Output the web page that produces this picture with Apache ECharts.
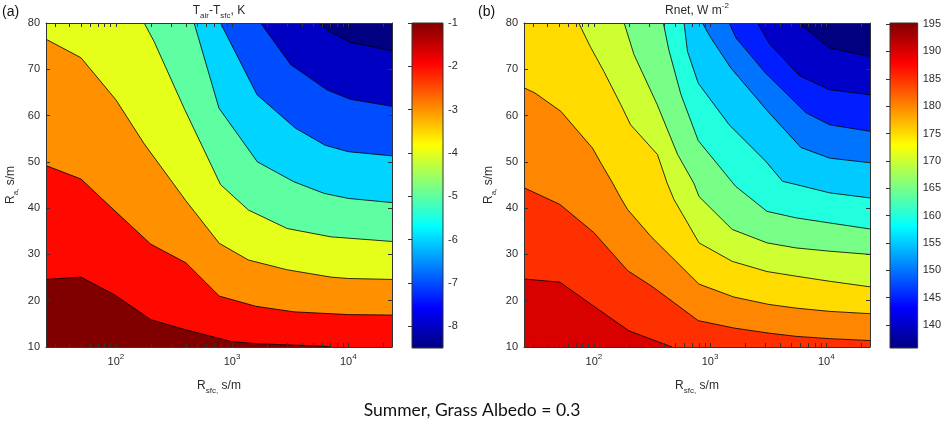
<!DOCTYPE html>
<html><head><meta charset="utf-8">
<script src="https://cdn.jsdelivr.net/npm/echarts@6/dist/echarts.min.js"></script>
<style>html,body{margin:0;padding:0;background:#fff}#c{width:944px;height:424px}</style>
</head><body><div id="c"></div><script>
// ---------- axes ----------
const RSFC_MIN = 25, RSFC_MAX = 23800;
const RA_MIN = 10, RA_MAX = 80;
const xMajorTicks = [100, 1000, 10000];
const xAllTicks = [30,40,50,60,70,80,90,100,200,300,400,500,600,700,800,900,1000,2000,3000,4000,5000,6000,7000,8000,9000,10000,20000];
const raTicks = [10,20,30,40,50,60,70,80];

// ---------- panel (a): T_air - T_sfc, K ----------
const levelsA = [-8,-7,-6,-5,-4,-3,-2,-1];
const cbarRangeA = [-8.5, -1];
const cbarTicksA = [-8,-7,-6,-5,-4,-3,-2,-1];
const contourA_m8 = [[5560,80],[7000,78.1],[10470,75.8],[23800,74.0]];
const contourA_m7 = [[1760,80],[3200,71.0],[6610,65.5],[10470,63.5],[23800,62.0]];
const contourA_m6 = [[794,80],[1640,64.5],[3500,57.3],[6310,53.6],[10000,52.2],[23800,51.3]];
const contourA_m5 = [[471,80],[771,61.6],[1650,50.0],[3400,45.7],[6170,43.2],[10000,42.1],[23800,41.2]];
const contourA_m4 = [[175,80],[213,76.0],[386,61.6],[795,45.1],[1380,39.6],[2980,35.6],[7080,33.8],[23800,32.8]];
const contourA_m3 = [[25,76.5],[50,72.5],[100,63.4],[174,54.0],[400,41.6],[776,32.4],[1380,28.8],[2950,26.7],[7080,25.1],[10000,24.8],[23800,24.6]];
const contourA_m2 = [[25,49.2],[50,46.3],[100,39.2],[200,32.2],[400,28.2],[776,21.0],[1600,18.8],[3400,17.6],[10000,17.0],[23800,16.9]];
const contourA_m1 = [[25,24.6],[50,25.1],[97,21.3],[200,15.9],[363,14.0],[977,11.2],[1660,10.7],[6300,10.15],[7000,10]];

// ---------- panel (b): Rnet, W m^-2 ----------
const levelsB = [140,145,150,155,160,165,170,175,180,185,190];
const cbarRangeB = [135.8, 195.2];
const cbarTicksB = [140,145,150,155,160,165,170,175,180,185,190,195];
const contourB_140 = [[5700,80],[7400,77.9],[10600,74.6],[23800,72.8]];
const contourB_145 = [[2560,80],[3250,75.5],[5900,68.6],[10600,65.6],[23800,64.5]];
const contourB_150 = [[1460,80],[1667,76.8],[3000,69.2],[6700,60.6],[10700,58.0],[23800,56.6]];
const contourB_155 = [[859,80],[1014,76.8],[1507,70.3],[3120,61.0],[6050,53.1],[10700,50.8],[23800,49.8]];
const contourB_160 = [[597,80],[638,73.9],[790,67.0],[1460,58.0],[3020,50.1],[4200,45.8],[5500,45.1],[10700,43.3],[23800,42.2]];
const contourB_165 = [[396,80],[440,74.3],[560,64.6],[790,54.6],[1660,44.7],[3090,39.3],[5500,37.9],[10700,36.8],[23800,35.5]];
const contourB_170 = [[182,80],[221,73.2],[350,62.4],[525,51.6],[724,45.4],[803,42.5],[1550,35.4],[3090,32.5],[5500,31.4],[10700,30.7],[23800,30.0]];
const contourB_175 = [[74,80],[93,74.9],[122,69.5],[170,62.4],[207,58.0],[352,51.6],[427,45.4],[490,41.8],[640,36.8],[803,32.5],[1550,28.5],[3090,26.3],[5500,25.3],[10700,24.2],[23800,23.0]];
const contourB_180 = [[25,66.0],[31,64.9],[52,60.9],[69,57.3],[97,53.0],[117,49.4],[145,45.4],[170,42.2],[195,39.7],[309,33.9],[800,23.6],[1600,20.8],[3200,19.2],[5500,18.4],[10700,17.7],[23800,17.2]];
const contourB_185 = [[25,44.4],[51,40.8],[100,34.7],[195,26.5],[316,23.1],[790,15.7],[1600,14.1],[3200,13.0],[5500,12.3],[10700,11.8],[23800,11.4]];
const contourB_190 = [[25,24.7],[51,24.0],[100,18.8],[200,13.5],[470,10]];

const linesA = [contourA_m8,contourA_m7,contourA_m6,contourA_m5,contourA_m4,contourA_m3,contourA_m2,contourA_m1];
const linesB = [contourB_140,contourB_145,contourB_150,contourB_155,contourB_160,contourB_165,contourB_170,contourB_175,contourB_180,contourB_185,contourB_190];

// ---------- helpers ----------
function clamp(v){return Math.max(0, Math.min(1, v));}
function jet(t){
  const r = clamp(Math.min(4*t-1.5, -4*t+4.5));
  const g = clamp(Math.min(4*t-0.5, -4*t+3.5));
  const b = clamp(Math.min(4*t+0.5, -4*t+2.5));
  return 'rgb(' + Math.round(r*255) + ',' + Math.round(g*255) + ',' + Math.round(b*255) + ')';
}
const jetStops = [0, 0.125, 0.375, 0.625, 0.875, 1].map(o => ({offset: o, color: jet(o)}));

function superlevelPolygon(line){
  const pts = line.slice();
  const first = line[0], last = line[line.length-1];
  if (last[0] >= RSFC_MAX) pts.push([RSFC_MAX, RA_MIN]);
  pts.push([RSFC_MIN, RA_MIN]);
  if (first[1] >= RA_MAX && first[0] > RSFC_MIN) pts.push([RSFC_MIN, RA_MAX]);
  return pts;
}
const fullRect = [[RSFC_MIN,RA_MIN],[RSFC_MAX,RA_MIN],[RSFC_MAX,RA_MAX],[RSFC_MIN,RA_MAX]];

function polygonSeries(points, color, axisIdx){
  return {
    type: 'custom', xAxisIndex: axisIdx, yAxisIndex: axisIdx, silent: true, animation: false, z: 1,
    data: points,
    renderItem: function(params, api){
      if (params.dataIndex !== 0) return null;
      return {type: 'polygon', shape: {points: points.map(p => api.coord(p))}, style: {fill: color}};
    }
  };
}
function lineSeries(points, axisIdx){
  return {type: 'line', xAxisIndex: axisIdx, yAxisIndex: axisIdx, data: points, symbol: 'none',
    silent: true, animation: false, z: 3, lineStyle: {color: '#000', width: 0.8}};
}
function colorbarSeries(range, axisIdx){
  const pts = [[0, range[0]], [1, range[1]]];
  return {
    type: 'custom', xAxisIndex: axisIdx, yAxisIndex: axisIdx, silent: true, animation: false, z: 1,
    data: pts,
    renderItem: function(params, api){
      if (params.dataIndex !== 0) return null;
      const p0 = api.coord(pts[0]), p1 = api.coord(pts[1]);
      return {type: 'rect', shape: {x: p0[0], y: p1[1], width: p1[0]-p0[0], height: p0[1]-p1[1]},
        style: {fill: new echarts.graphic.LinearGradient(0, 1, 0, 0, jetStops), stroke: '#333', lineWidth: 1}};
    }
  };
}

const FONT = 'Liberation Sans, Arial, sans-serif';
const TXT = '#2b2b2b';
const rich = {
  sup: {fontSize: 8, verticalAlign: 'top', fontFamily: FONT, color: TXT},
  sub: {fontSize: 8, verticalAlign: 'bottom', fontFamily: FONT, color: TXT}
};

function panelAxes(gridIdx){
  const tickStyle = {show: true, inside: true, length: 4, lineStyle: {color: '#333', width: 1}};
  const x = [
    {type: 'log', logBase: 10, gridIndex: gridIdx, min: RSFC_MIN, max: RSFC_MAX, position: 'bottom', z: 10,
      name: 'R{sub|sfc,} s/m', nameLocation: 'middle', nameGap: 30,
      nameTextStyle: {fontFamily: FONT, fontSize: 12, color: TXT, lineHeight: 18, rich: rich},
      axisLine: {show: true, lineStyle: {color: '#333', width: 1}},
      axisTick: Object.assign({customValues: xAllTicks}, tickStyle),
      axisLabel: {customValues: xMajorTicks, margin: 6, fontFamily: FONT, fontSize: 11, color: TXT, lineHeight: 18, rich: rich,
        formatter: v => '10{sup|' + Math.round(Math.log10(v)) + '}'},
      splitLine: {show: false}, minorSplitLine: {show: false}},
    {type: 'log', logBase: 10, gridIndex: gridIdx, min: RSFC_MIN, max: RSFC_MAX, position: 'top', z: 10,
      axisLine: {show: true, lineStyle: {color: '#333', width: 1}},
      axisTick: Object.assign({customValues: xAllTicks}, tickStyle),
      axisLabel: {show: false}, splitLine: {show: false}}
  ];
  const y = [
    {type: 'value', gridIndex: gridIdx, min: RA_MIN, max: RA_MAX, interval: 10, position: 'left', z: 10,
      name: 'R{sub|a,} s/m', nameLocation: 'middle', nameGap: 26, nameRotate: 90,
      nameTextStyle: {fontFamily: FONT, fontSize: 12, color: TXT, lineHeight: 18, rich: rich},
      axisLine: {show: true, lineStyle: {color: '#333', width: 1}},
      axisTick: tickStyle,
      axisLabel: {margin: 6, fontFamily: FONT, fontSize: 11, color: TXT},
      splitLine: {show: false}},
    {type: 'value', gridIndex: gridIdx, min: RA_MIN, max: RA_MAX, interval: 10, position: 'right', z: 10,
      axisLine: {show: true, lineStyle: {color: '#333', width: 1}},
      axisTick: tickStyle, axisLabel: {show: false}, splitLine: {show: false}}
  ];
  return {x, y};
}
function cbarAxes(gridIdx, range, ticks){
  return {
    x: {type: 'value', gridIndex: gridIdx, min: 0, max: 1, show: false},
    y: {type: 'value', gridIndex: gridIdx, min: range[0], max: range[1], position: 'right', z: 10,
      axisLine: {show: false},
      axisTick: {show: true, inside: true, length: 4, customValues: ticks, lineStyle: {color: '#333'}},
      axisLabel: {customValues: ticks, margin: 5, fontFamily: FONT, fontSize: 11, color: TXT},
      splitLine: {show: false}}
  };
}

const aAx = panelAxes(0), bAx = panelAxes(1);
const caAx = cbarAxes(2, cbarRangeA, cbarTicksA), cbAx = cbarAxes(3, cbarRangeB, cbarTicksB);

function panelSeries(lines, levels, range, axisIdx){
  const s = [polygonSeries(fullRect, jet(0), axisIdx)];
  lines.forEach((ln, i) => {
    const t = (levels[i] - range[0]) / (range[1] - range[0]);
    s.push(polygonSeries(superlevelPolygon(ln), jet(t), axisIdx));
  });
  lines.forEach(ln => s.push(lineSeries(ln, axisIdx)));
  return s;
}

const series = []
  .concat(panelSeries(linesA, levelsA, cbarRangeA, 0))
  .concat(panelSeries(linesB, levelsB, cbarRangeB, 2));
series.push(colorbarSeries(cbarRangeA, 4));
series.push(colorbarSeries(cbarRangeB, 5));

const option = {
  backgroundColor: '#fff',
  animation: false,
  grid: [
    {left: 46, top: 23, width: 346, height: 324},
    {left: 524, top: 23, width: 346, height: 324},
    {left: 412, top: 23, width: 31, height: 325},
    {left: 890, top: 23, width: 30, height: 325}
  ],
  xAxis: [aAx.x[0], aAx.x[1], bAx.x[0], bAx.x[1], caAx.x, cbAx.x],
  yAxis: [aAx.y[0], aAx.y[1], bAx.y[0], bAx.y[1], caAx.y, cbAx.y],
  series: series,
  graphic: [
    {type: 'text', x: 2, y: 12, style: {text: '(a)', font: '14px ' + FONT, fill: '#111', verticalAlign: 'middle'}},
    {type: 'text', x: 478, y: 12, style: {text: '(b)', font: '14px ' + FONT, fill: '#111', verticalAlign: 'middle'}},
    {type: 'text', x: 219, y: 11, style: {text: 'T{sub|air}-T{sub|sfc}, K', font: '12px ' + FONT, fill: TXT,
      align: 'center', verticalAlign: 'middle', lineHeight: 18, rich: rich}},
    {type: 'text', x: 697, y: 11, style: {text: 'Rnet, W m{sup|-2}', font: '12px ' + FONT, fill: TXT,
      align: 'center', verticalAlign: 'middle', lineHeight: 18, rich: rich}},
    {type: 'text', x: 472, y: 410, style: {text: 'Summer, Grass Albedo = 0.3', font: '17.5px Lato, "Open Sans", sans-serif', fill: '#111',
      align: 'center', verticalAlign: 'middle'}}
  ]
};
const chart = echarts.init(document.getElementById('c'), null, {renderer: 'canvas'});
chart.setOption(option);
</script></body></html>
